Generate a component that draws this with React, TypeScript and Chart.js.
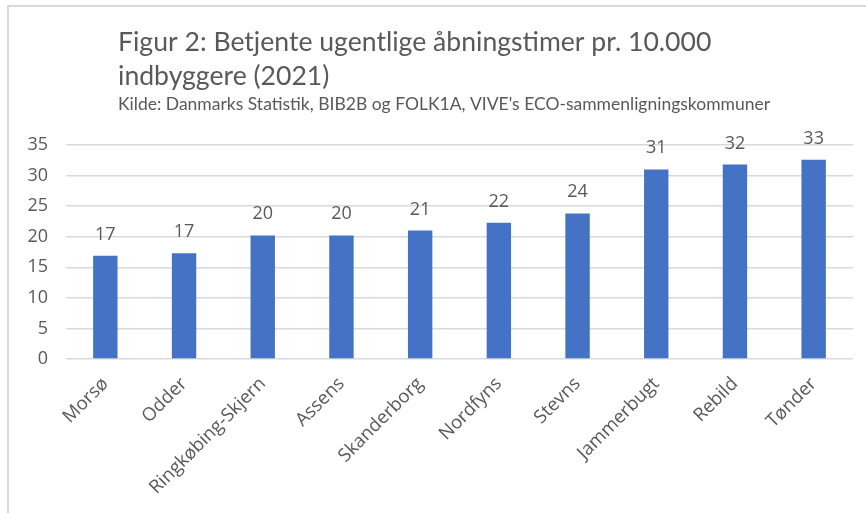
import { useEffect, useRef } from 'react';
import { Chart, registerables } from 'chart.js';

Chart.register(...registerables);

const titleLines = ['Figur 2: Betjente ugentlige åbningstimer pr. 10.000', 'indbyggere (2021)'];
const subtitle = "Kilde: Danmarks Statistik, BIB2B og FOLK1A, VIVE's ECO-sammenligningskommuner";
const categories = ['Morsø', 'Odder', 'Ringkøbing-Skjern', 'Assens', 'Skanderborg', 'Nordfyns', 'Stevns', 'Jammerbugt', 'Rebild', 'Tønder'];
const values = [16.9, 17.3, 20.2, 20.2, 21.0, 22.3, 23.8, 31.0, 31.8, 32.6];
const yMin = 0;
const yMax = 35;
const yStep = 5;

const TEXT = '#595959';
const GRID = '#d9d9d9';
const BAR = '#4472C4';

const decorPlugin = {
  id: 'decor',
  beforeDraw(chart: any) {
    const ctx = chart.ctx;
    ctx.save();
    ctx.fillStyle = '#ffffff';
    ctx.fillRect(0, 0, chart.width, chart.height);
    // frame (left + top)
    ctx.strokeStyle = GRID;
    ctx.lineWidth = 2;
    ctx.beginPath();
    ctx.moveTo(8, chart.height);
    ctx.lineTo(8, 6);
    ctx.lineTo(chart.width, 6);
    ctx.stroke();
    // title
    ctx.fillStyle = TEXT;
    ctx.textAlign = 'left';
    ctx.textBaseline = 'alphabetic';
    ctx.font = '26.6px Lato';
    ctx.fillText(titleLines[0], 118, 51);
    ctx.fillText(titleLines[1], 118, 85);
    ctx.font = '17.5px Lato';
    ctx.fillText(subtitle, 118, 110);
    ctx.restore();
  },
  afterDatasetsDraw(chart: any) {
    const ctx = chart.ctx;
    const meta = chart.getDatasetMeta(0);
    ctx.save();
    ctx.fillStyle = TEXT;
    ctx.font = '18px "Open Sans"';
    ctx.textAlign = 'center';
    ctx.textBaseline = 'alphabetic';
    meta.data.forEach((bar: any, i: number) => {
      ctx.fillText(String(Math.round(values[i])), bar.x, bar.y - 16);
    });
    ctx.restore();
  },
};

export default function App() {
  const ref = useRef<HTMLCanvasElement>(null);
  useEffect(() => {
    document.body.style.margin = '0';
    document.body.style.overflow = 'hidden';
    const chart = new Chart(ref.current!, {
      type: 'bar',
      data: {
        labels: categories,
        datasets: [
          {
            data: values,
            backgroundColor: BAR,
            borderWidth: 0,
            categoryPercentage: 1,
            barPercentage: 0.31,
          },
        ],
      },
      options: {
        responsive: false,
        animation: false,
        events: [],
        layout: { padding: { top: 145, right: 13, left: 0, bottom: 0 } },
        plugins: {
          legend: { display: false },
          title: { display: false },
          tooltip: { enabled: false },
        },
        scales: {
          x: {
            grid: { display: false },
            border: { display: false },
            ticks: {
              color: TEXT,
              font: { family: '"Open Sans"', size: 18.5 },
              minRotation: 45,
              maxRotation: 45,
              padding: 6,
              autoSkip: false,
            },
            afterFit(scale: any) {
              scale.height = 154;
            },
          },
          y: {
            min: yMin,
            max: yMax,
            border: { display: false },
            grid: { color: GRID, lineWidth: 1.5, drawTicks: false },
            ticks: {
              stepSize: yStep,
              color: TEXT,
              font: { family: '"Open Sans"', size: 18 },
              padding: 18,
            },
            afterFit(scale: any) {
              scale.width = 66;
            },
          },
        },
      },
      plugins: [decorPlugin],
    });
    return () => chart.destroy();
  }, []);
  return <canvas ref={ref} width={866} height={513} style={{ display: 'block' }} />;
}
